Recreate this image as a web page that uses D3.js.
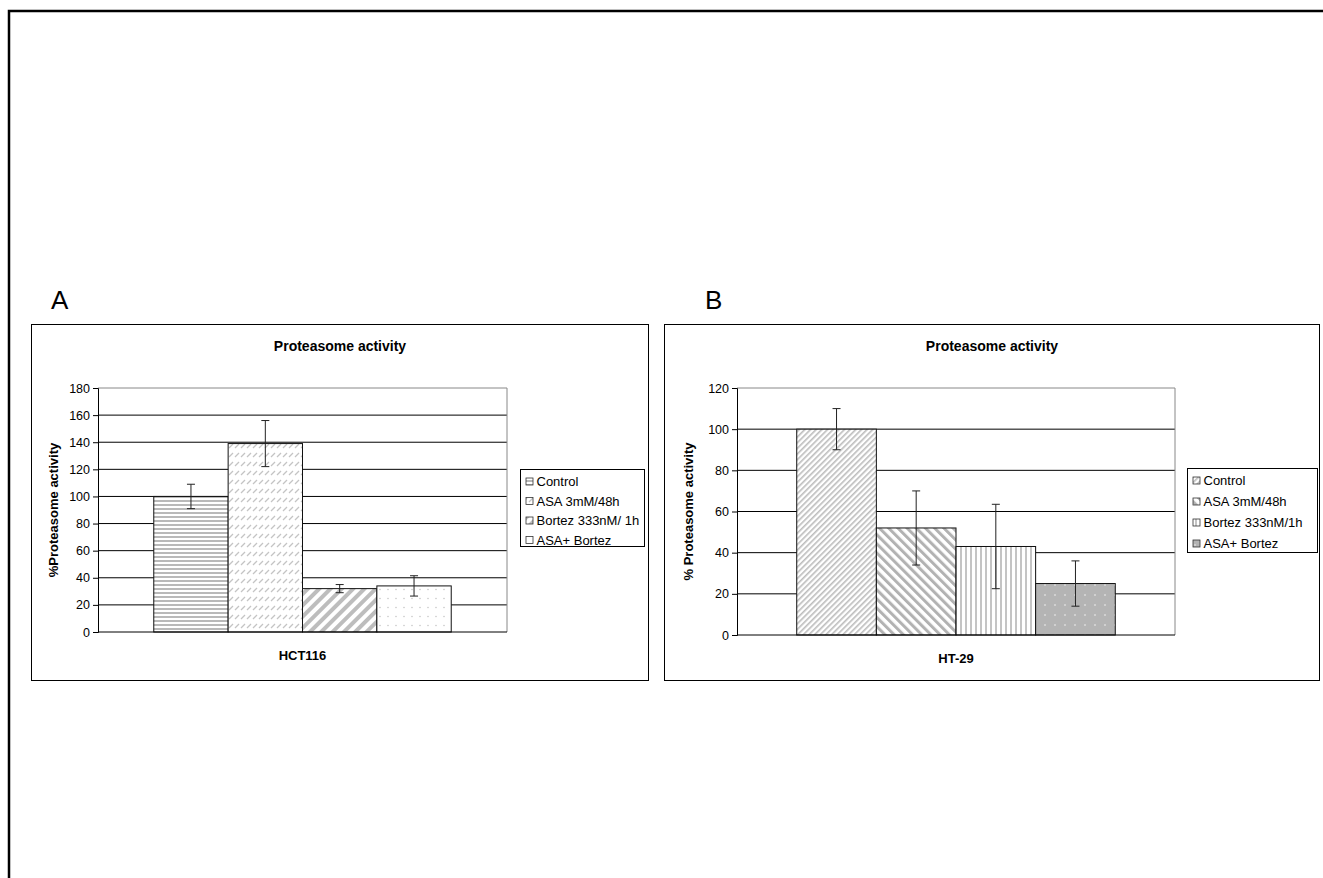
<!DOCTYPE html>
<html>
<head>
<meta charset="utf-8">
<script src="https://cdn.jsdelivr.net/npm/d3@7"></script>
<style>
  body { margin: 0; background: #fff; }
  svg { display: block; font-family: Arial, "Liberation Sans", sans-serif; }
</style>
</head>
<body>
<div id="chart"></div>
<script>
// panel A - HCT116
const treatmentsA = ["Control", "ASA 3mM/48h", "Bortez 333nM/ 1h", "ASA+ Bortez"];
const valuesA = [100, 139, 32, 34];
const errorsA = [9, 17, 3, 7.5];
const yTicksA = [0, 20, 40, 60, 80, 100, 120, 140, 160, 180];

// panel B - HT-29
const treatmentsB = ["Control", "ASA 3mM/48h", "Bortez 333nM/1h", "ASA+ Bortez"];
const valuesB = [100, 52, 43, 25];
const errorsB = [10, 18, 20.5, 11];
const yTicksB = [0, 20, 40, 60, 80, 100, 120];

const svg = d3.select('#chart')
  .append('svg')
  .attr('width', 1323)
  .attr('height', 878);

// fill patterns, one per bar
const defs = svg.append('defs');

function stripes(id, size, stripe, color, angle) {
  const p = defs.append('pattern')
    .attr('id', id)
    .attr('patternUnits', 'userSpaceOnUse')
    .attr('width', size).attr('height', size)
    .attr('patternTransform', `rotate(${angle})`);
  p.append('rect').attr('width', size).attr('height', size).attr('fill', '#fff');
  p.append('rect').attr('width', stripe).attr('height', size).attr('fill', color);
}

function dots(id, w, h, r, bg, color) {
  const p = defs.append('pattern')
    .attr('id', id)
    .attr('patternUnits', 'userSpaceOnUse')
    .attr('width', w).attr('height', h);
  p.append('rect').attr('width', w).attr('height', h).attr('fill', bg);
  p.append('circle').attr('cx', w / 2).attr('cy', h / 2).attr('r', r).attr('fill', color);
}

stripes('aCtrl', 4, 2, '#b9b9b9', 90);
(function() {
  const p = defs.append('pattern')
    .attr('id', 'aAsa')
    .attr('patternUnits', 'userSpaceOnUse')
    .attr('width', 6).attr('height', 9);
  p.append('rect').attr('width', 6).attr('height', 9).attr('fill', '#fff');
  p.append('line')
    .attr('x1', 1).attr('y1', 7).attr('x2', 5).attr('y2', 3)
    .attr('stroke', '#c4c4c4').attr('stroke-width', 1.2);
})();
stripes('aBort', 8, 4, '#bdbdbd', 45);
dots('aBoth', 8, 9, 0.7, '#fff', '#bdbdbd');

stripes('bCtrl', 4, 1.6, '#bcbcbc', 45);
stripes('bAsa', 6.5, 3, '#b2b2b2', -45);
stripes('bBort', 5, 2, '#c4c4c4', 0);
dots('bBoth', 10, 10, 0.8, '#b4b4b4', '#f4f4f4');

// outer frame
svg.append('rect')
  .attr('x', 9).attr('y', 11)
  .attr('width', 1400).attr('height', 1000)
  .attr('fill', 'none')
  .attr('stroke', '#000')
  .attr('stroke-width', 2.5);

function panel(cfg) {
  const g = svg.append('g');

  g.append('text')
    .attr('x', cfg.letterX).attr('y', 309)
    .attr('font-size', 26)
    .text(cfg.letter);

  g.append('rect')
    .attr('x', cfg.box[0]).attr('y', cfg.box[1])
    .attr('width', cfg.box[2]).attr('height', cfg.box[3])
    .attr('fill', '#fff')
    .attr('stroke', '#000')
    .attr('stroke-width', 1);

  const x = d3.scaleBand()
    .domain(cfg.names)
    .range([cfg.plot.left, cfg.plot.right])
    .paddingInner(0)
    .paddingOuter(0.75);

  const y = d3.scaleLinear()
    .domain([0, d3.max(cfg.ticks)])
    .range([cfg.plot.bottom, cfg.plot.top]);

  g.append('text')
    .attr('x', (cfg.box[0] + cfg.box[0] + cfg.box[2]) / 2)
    .attr('y', 351)
    .attr('text-anchor', 'middle')
    .attr('font-size', 14)
    .attr('font-weight', 'bold')
    .text('Proteasome activity');

  // gridlines
  g.append('g')
    .selectAll('line')
    .data(cfg.ticks.filter(d => d > 0))
    .enter()
    .append('line')
    .attr('x1', cfg.plot.left).attr('x2', cfg.plot.right)
    .attr('y1', d => y(d)).attr('y2', d => y(d))
    .attr('stroke', d => d === d3.max(cfg.ticks) ? '#888' : '#000')
    .attr('stroke-width', 1);

  // right border of the plot area
  g.append('line')
    .attr('x1', cfg.plot.right).attr('x2', cfg.plot.right)
    .attr('y1', cfg.plot.top).attr('y2', cfg.plot.bottom)
    .attr('stroke', '#888');

  g.selectAll('.bar')
    .data(cfg.values)
    .enter()
    .append('rect')
    .attr('class', 'bar')
    .attr('x', (d, i) => x(cfg.names[i]))
    .attr('width', x.bandwidth())
    .attr('y', d => y(d))
    .attr('height', d => y(0) - y(d))
    .attr('fill', (d, i) => `url(#${cfg.fills[i]})`)
    .attr('stroke', '#111')
    .attr('stroke-width', 1);

  // error bars
  const eb = g.append('g').attr('stroke', '#222').attr('stroke-width', 1);
  cfg.values.forEach((v, i) => {
    const cx = x(cfg.names[i]) + x.bandwidth() / 2;
    const e = cfg.errors[i];
    eb.append('line').attr('x1', cx).attr('x2', cx).attr('y1', y(v + e)).attr('y2', y(v - e));
    eb.append('line').attr('x1', cx - 4).attr('x2', cx + 4).attr('y1', y(v + e)).attr('y2', y(v + e));
    eb.append('line').attr('x1', cx - 4).attr('x2', cx + 4).attr('y1', y(v - e)).attr('y2', y(v - e));
  });

  const axis = g.append('g')
    .attr('transform', `translate(${cfg.plot.left},0)`)
    .call(d3.axisLeft(y).tickValues(cfg.ticks).tickSize(5).tickPadding(3));
  axis.select('.domain').attr('stroke', '#000');
  axis.selectAll('text')
    .attr('font-size', 12.5)
    .attr('fill', '#000')
    .attr('font-family', 'Arial, "Liberation Sans", sans-serif');

  g.append('line')
    .attr('x1', cfg.plot.left).attr('x2', cfg.plot.right)
    .attr('y1', y(0)).attr('y2', y(0))
    .attr('stroke', '#000');

  g.append('text')
    .attr('transform', `translate(${cfg.yLabelX},${(cfg.plot.top + cfg.plot.bottom) / 2}) rotate(-90)`)
    .attr('text-anchor', 'middle')
    .attr('dominant-baseline', 'central')
    .attr('font-size', 13)
    .attr('font-weight', 'bold')
    .text(cfg.yLabel);

  g.append('text')
    .attr('x', (cfg.plot.left + cfg.plot.right) / 2)
    .attr('y', cfg.xLabelY)
    .attr('text-anchor', 'middle')
    .attr('font-size', 13)
    .attr('font-weight', 'bold')
    .text(cfg.group);

  // legend
  const lg = g.append('g');
  lg.append('rect')
    .attr('x', cfg.legend.x).attr('y', cfg.legend.y)
    .attr('width', cfg.legend.w).attr('height', cfg.legend.h)
    .attr('fill', '#fff')
    .attr('stroke', '#000');
  cfg.names.forEach((n, i) => {
    const cy = cfg.legend.y + cfg.legend.first + i * cfg.legend.step;
    lg.append('rect')
      .attr('x', cfg.legend.x + 5.5).attr('y', cy - 3.5)
      .attr('width', 7).attr('height', 7)
      .attr('fill', `url(#${cfg.fills[i]})`)
      .attr('stroke', '#333')
      .attr('stroke-width', 0.8);
    lg.append('text')
      .attr('x', cfg.legend.x + 16).attr('y', cy)
      .attr('dominant-baseline', 'central')
      .attr('font-size', 13)
      .text(n);
  });
}

panel({
  letter: 'A', letterX: 51,
  box: [31.5, 324.5, 617, 356],
  plot: { left: 98, right: 507, top: 388, bottom: 632 },
  names: treatmentsA, values: valuesA, errors: errorsA, ticks: yTicksA,
  fills: ['aCtrl', 'aAsa', 'aBort', 'aBoth'],
  yLabel: '%Proteasome activity', yLabelX: 53,
  group: 'HCT116', xLabelY: 660,
  legend: { x: 520.5, y: 469.5, w: 124, h: 77, first: 12, step: 19.5 }
});

panel({
  letter: 'B', letterX: 705,
  box: [664.5, 324.5, 655, 356],
  plot: { left: 737, right: 1175, top: 388, bottom: 635 },
  names: treatmentsB, values: valuesB, errors: errorsB, ticks: yTicksB,
  fills: ['bCtrl', 'bAsa', 'bBort', 'bBoth'],
  yLabel: '% Proteasome activity', yLabelX: 688,
  group: 'HT-29', xLabelY: 663,
  legend: { x: 1187.5, y: 468.5, w: 130, h: 84, first: 12, step: 21 }
});
</script>
</body>
</html>
